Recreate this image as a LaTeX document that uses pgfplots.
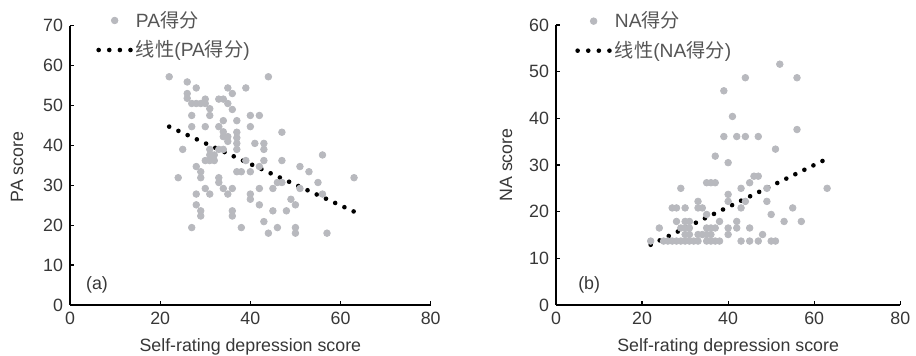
\documentclass[border=0pt]{standalone}
\usepackage{pgfplots}
\pgfplotsset{compat=1.18}
\usepackage{fontspec}
\setmainfont{Liberation Sans}
\newfontfamily\cjk{Noto Sans CJK SC}
\definecolor{ptgray}{RGB}{184,185,190}
\definecolor{txtgray}{RGB}{55,55,55}
\definecolor{leggray}{RGB}{85,85,85}

\pgfplotstableread{
x y
22 57.2
44 57.2
26 55.9
28 54.4
35 54.4
39 54.4
26 53.0
36 53.0
26 51.8
30 51.6
33 51.6
34 51.6
27 50.5
28 50.5
29 50.5
30 50.5
35 50.5
31 49.2
36 49.0
27 47.5
31 47.5
40 47.5
42 47.5
34 46.2
37 46.2
27 44.7
30 44.7
33 44.7
40 44.7
34 43.4
37 43.3
47 43.3
34 42.2
35 42.2
37 41.9
35 41.0
37 40.5
41 40.5
43 40.5
25 39.0
31 39.0
33 39.0
34 39.0
37 39.0
43 39.0
31 37.6
32 37.6
56 37.6
30 36.2
31 36.2
32 36.2
39 36.2
43 36.2
47 36.2
28 34.7
42 34.7
51 34.7
29 33.4
37 33.4
38 33.4
40 33.4
53 33.4
24 31.9
29 31.9
33 31.9
63 31.9
33 30.7
46 30.7
47 30.7
55 30.7
30 29.2
34 29.2
36 29.2
42 29.2
45 29.2
51 29.2
28 27.8
31 27.8
35 27.8
40 27.8
56 27.8
40 26.5
49 26.5
28 25.1
42 25.1
50 25.1
29 23.6
36 23.6
45 23.6
48 23.6
29 22.3
36 22.3
43 20.9
27 19.4
38 19.4
46 19.4
50 19.4
44 18.0
50 18.0
57 18.0
}\padata

\pgfplotstableread{
x y
52 51.6
44 48.7
56 48.7
39 45.9
41 40.4
56 37.6
39 36.1
42 36.1
44 36.1
47 36.1
51 33.4
37 31.9
40 30.5
46 27.6
47 27.6
35 26.2
36 26.2
37 26.2
45 26.2
29 25.0
43 25.0
49 25.0
63 25.0
40 23.7
33 22.2
40 22.2
44 22.2
49 22.2
27 20.8
28 20.8
30 20.8
33 20.8
34 20.8
43 20.8
55 20.8
35 19.4
50 19.4
28 17.9
30 17.9
31 17.9
38 17.9
42 17.9
53 17.9
57 17.9
24 16.5
29 16.5
30 16.5
31 16.5
35 16.5
36 16.5
37 16.5
40 16.5
42 16.5
45 16.5
30 15.1
31 15.1
33 15.1
34 15.1
35 15.1
36 15.1
40 15.1
48 15.1
22 13.7
25 13.7
26 13.7
27 13.7
28 13.7
29 13.7
30 13.7
31 13.7
32 13.7
33 13.7
35 13.7
36 13.7
37 13.7
38 13.7
43 13.7
45 13.7
47 13.7
50 13.7
51 13.7
}\nadata

\pgfplotsset{
  myaxis/.style={
    scale only axis,
    axis lines*=left,
    axis line style={black, line width=0.6pt},
    xmin=0, xmax=80,
    xtick={0,20,40,60,80},
    ymin=0,
    tick align=inside,
    xtick pos=bottom, ytick pos=left,
    major tick length=2.2pt,
    tick style={black, line width=0.6pt},
    /pgf/number format/assume math mode=true,
    tick label style={font=\fontsize{8.9}{9.5}\selectfont, text=txtgray},
    label style={font=\fontsize{8.9}{9.5}\selectfont, text=txtgray},
    xlabel style={at={(axis description cs:0.5,0)}, anchor=center, yshift=-21pt},
    clip=false,
    legend style={draw=none, fill=none, inner sep=0pt, row sep=2.2pt,
      font=\fontsize{9.6}{10.5}\selectfont, text=leggray,
      nodes={inner sep=1.5pt}},
    legend cell align=left,
  },
  scat/.style={only marks, mark=*, mark size=1.65pt, color=ptgray,
    mark options={fill=ptgray, draw=ptgray}},
  trend/.style={black, line width=2.3pt, line cap=round, dash pattern=on 0pt off #1,
    legend image code/.code={\draw[black, line width=2.3pt, line cap=round, dash pattern=on 0pt off 5.3pt] (0pt,0pt) -- (16pt,0pt);}},
}

\begin{document}
\begin{tikzpicture}
\begin{axis}[myaxis,
  at={(35pt,25.5pt)}, anchor=south west,
  width=180.35pt, height=139.65pt,
  ymax=70, ytick={0,10,...,70},
  xlabel={Self-rating depression score},
  ylabel={PA score},
  ylabel style={at={(axis description cs:-0.147,0.494)}, anchor=center},
  legend style={at={(axis description cs:0.072,1.065)}, anchor=north west},
  legend image code/.code={\draw[ptgray, fill=ptgray] (8pt,0pt) circle (1.65pt);},
]
\addplot[scat] table[x=x,y=y] {\padata};
\addlegendentry{PA{\cjk 得分}}
\addplot[trend=5.075pt] coordinates {(22,44.7) (63,23.4)};
\addlegendentry{{\cjk 线性}(PA{\cjk 得分})}
\node[font=\fontsize{8.9}{9.5}\selectfont, text=txtgray] at (axis cs:6,5) {(a)};
\end{axis}

\begin{axis}[myaxis,
  at={(278pt,25.5pt)}, anchor=south west,
  width=172.15pt, height=140pt,
  ymax=60, ytick={0,10,...,60},
  xlabel={Self-rating depression score},
  ylabel={NA score},
  ylabel style={at={(axis description cs:-0.145,0.5)}, anchor=center},
  legend style={at={(axis description cs:0.055,1.06)}, anchor=north west},
  legend image code/.code={\draw[ptgray, fill=ptgray] (8pt,0pt) circle (1.65pt);},
]
\addplot[scat] table[x=x,y=y] {\nadata};
\addlegendentry{NA{\cjk 得分}}
\addplot[trend=5.03pt] coordinates {(22,12.9) (62,30.9)};
\addlegendentry{{\cjk 线性}(NA{\cjk 得分})}
\node[font=\fontsize{8.9}{9.5}\selectfont, text=txtgray] at (axis cs:7.7,4.3) {(b)};
\end{axis}
\pgfresetboundingbox
\useasboundingbox (0pt,0pt) rectangle (458pt,178pt);
\end{tikzpicture}
\end{document}
